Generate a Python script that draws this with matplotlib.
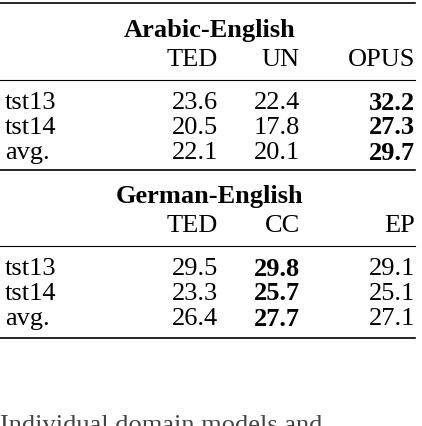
import matplotlib.pyplot as plt
from matplotlib.lines import Line2D

W, H = 422, 426
fig = plt.figure(figsize=(W / 100, H / 100), dpi=100)
plt.rcParams["font.family"] = ["Liberation Serif", "DejaVu Serif"]

row_labels = ["tst13", "tst14", "avg."]
ar_cols = ["TED", "UN", "OPUS"]
ar_vals = [["23.6", "22.4", "32.2"], ["20.5", "17.8", "27.3"], ["22.1", "20.1", "29.7"]]
ar_best = 2
de_cols = ["TED", "CC", "EP"]
de_vals = [["29.5", "29.8", "29.1"], ["23.3", "25.7", "25.1"], ["26.4", "27.7", "27.1"]]
de_best = 1

col_right = [218, 300, 415]
fs = 19


def txt(x, y, s, **kw):
    fig.text(x / W, 1 - y / H, s, fontsize=fs, va="center", **kw)


def rule(y, lw):
    fig.add_artist(Line2D([0, 415 / W], [1 - y / H, 1 - y / H], color="black", lw=lw))


def block(y0, title, cols, vals, best):
    txt(210, y0, title, ha="center", fontweight="bold")
    for c, x in zip(cols, col_right):
        txt(x, y0 + 30, c, ha="right")
    rule(y0 + 50, 0.8)
    for i, (lab, row) in enumerate(zip(row_labels, vals)):
        y = y0 + 73 + 25 * i
        txt(5, y, lab, ha="left")
        for j, (v, x) in enumerate(zip(row, col_right)):
            txt(x, y, v, ha="right", fontweight="bold" if j == best else "normal")


rule(3, 1.2)
block(30, "Arabic-English", ar_cols, ar_vals, ar_best)
rule(170, 1.2)
block(196, "German-English", de_cols, de_vals, de_best)
rule(338, 1.2)
txt(0, 426, "Individual domain models and ...", ha="left", color="#444444")

fig.savefig("out.png", dpi=100)
